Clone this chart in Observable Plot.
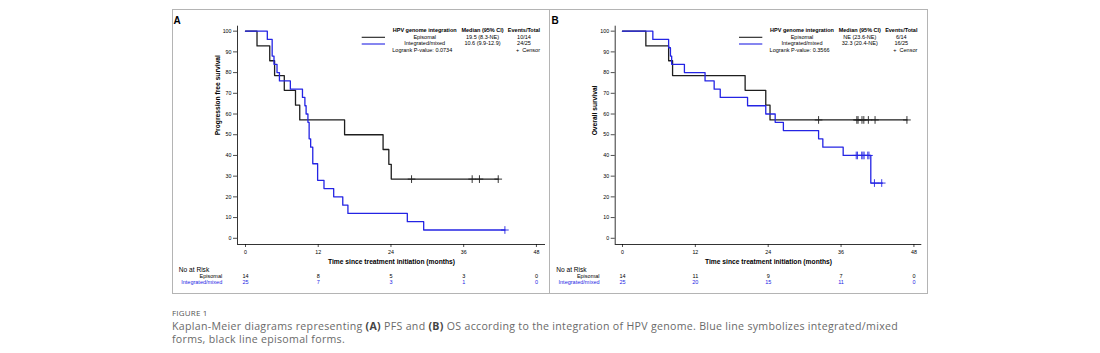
<!DOCTYPE html>
<html>
<head>
<meta charset="utf-8">
<script src="https://cdn.jsdelivr.net/npm/d3@7"></script>
<script src="https://cdn.jsdelivr.net/npm/@observablehq/plot@0.6"></script>
<style>
  html, body { margin: 0; padding: 0; background: #fff; }
  body { width: 1100px; height: 353px; position: relative; overflow: hidden; font-family: "Liberation Sans", Arial, sans-serif; }
  .border { position: absolute; top: 9px; height: 285px; border: 1.5px solid #b4b4b4; box-sizing: border-box; }
  .plot { position: absolute; top: 9px; }
  .caption { position: absolute; left: 172px; top: 306px; font-family: "Open Sans", "Noto Sans", sans-serif; color: #6a6a6a; font-size: 10.6px; letter-spacing: 0.3px; line-height: 13px; }
  .caption .fig { color: #555; font-size: 8px; letter-spacing: 0.2px; margin-bottom: 1px; }
  .caption b { color: #444; }
</style>
</head>
<body>
<div class="border" style="left:172px;width:378px"></div>
<div class="border" style="left:548.5px;width:379px"></div>
<div id="pA" class="plot" style="left:172px"></div>
<div id="pB" class="plot" style="left:548px"></div>
<div class="caption">
  <div class="fig">FIGURE 1</div>
  <div>Kaplan-Meier diagrams representing <b>(A)</b> PFS and <b>(B)</b> OS according to the integration of HPV genome. Blue line symbolizes integrated/mixed<br>forms, black line episomal forms.</div>
</div>
<script>
// ---------- data ----------
const groups = ["Episomal", "Integrated/mixed"];
const xTicks = [0, 12, 24, 36, 48];
const yTicks = [0, 10, 20, 30, 40, 50, 60, 70, 80, 90, 100];

// Panel A: progression free survival
const pfsEpiTimes = [0, 1.9, 4.0, 4.8, 6.4, 8.25, 8.95, 16.35, 22.7, 23.65, 24.05];
const pfsEpiSurv  = [100, 92.86, 85.71, 78.57, 71.43, 64.29, 57.14, 50.0, 42.86, 35.71, 28.57];
const pfsEpiEnd = 41.7;
const pfsEpiCensor = [27.4, 37.4, 38.6, 41.7];

const pfsIntTimes = [0, 3.6, 4.4, 4.7, 5.2, 5.6, 7.4, 9.4, 9.8, 10.0, 10.3, 10.5, 10.75, 11.1, 11.9, 12.95, 14.55, 16.05, 16.9, 26.7, 29.4];
const pfsIntSurv  = [100, 96, 88, 84, 80, 76, 72, 68, 64, 60, 56, 48, 44, 36, 28, 24, 20, 16, 12, 8, 4];
const pfsIntEnd = 42.8;
const pfsIntCensor = [42.8];

const pfsRiskEpi = [14, 8, 5, 3, 0];
const pfsRiskInt = [25, 7, 3, 1, 0];

// Panel B: overall survival
const osEpiTimes = [0, 3.85, 7.6, 8.25, 20.2, 23.6, 24.3];
const osEpiSurv  = [100, 92.86, 85.71, 78.57, 71.43, 64.29, 57.14];
const osEpiEnd = 46.85;
const osEpiCensor = [32.3, 38.6, 38.8, 39.45, 39.75, 40.5, 41.6, 46.85];

const osIntTimes = [0, 5.0, 7.6, 7.9, 8.1, 10.2, 13.6, 15.1, 16.1, 20.6, 23.6, 25.15, 26.5, 32.3, 33.0, 36.35, 40.9];
const osIntSurv  = [100, 96, 92, 88, 84, 80, 76, 72, 68, 64, 60, 56, 52, 48, 44, 40, 26.67];
const osIntEnd = 42.8;
const osIntCensor = [38.5, 38.7, 39.4, 39.6, 39.8, 40.4, 40.6, 41.5, 42.7];

const osRiskEpi = [14, 11, 9, 7, 0];
const osRiskInt = [25, 20, 15, 11, 0];

const legendA = { median: ["19.5 (8.3-NE)", "10.6 (9.9-12.9)"], events: ["10/14", "24/25"], p: "Logrank P-value: 0.0734" };
const legendB = { median: ["NE (23.6-NE)", "32.3 (20.4-NE)"], events: ["6/14", "16/25"], p: "Logrank P-value: 0.3566" };

// ---------- helpers ----------
const BLACK = "#1e1e1e", BLUE = "#2424e4";
function stepPoints(times, surv, end) {
  const pts = times.map((t, i) => ({ t, s: surv[i] }));
  pts.push({ t: end, s: surv[surv.length - 1] });
  return pts;
}
function survAt(times, surv, t) {
  let s = surv[0];
  for (let i = 0; i < times.length; i++) if (times[i] <= t) s = surv[i];
  return s;
}
function censorPoints(times, surv, cens) {
  return cens.map(t => ({ t, s: survAt(times, surv, t) }));
}

function makePanel(cfg) {
  const epi = stepPoints(cfg.epiT, cfg.epiS, cfg.epiEnd);
  const int = stepPoints(cfg.intT, cfg.intS, cfg.intEnd);
  const ce = censorPoints(cfg.epiT, cfg.epiS, cfg.epiC);
  const ci = censorPoints(cfg.intT, cfg.intS, cfg.intC);
  const risk = xTicks.map((t, i) => ({ t, e: cfg.riskE[i], n: cfg.riskI[i] }));
  const yMin = -3, yMax = 102.4;
  const svg = Plot.plot({
    width: cfg.width, height: 285,
    marginLeft: cfg.ml, marginRight: cfg.mr, marginTop: 16.7, marginBottom: 50,
    x: { domain: [cfg.xMin, cfg.xMax] },
    y: { domain: [yMin, yMax] },
    style: { fontFamily: "'Liberation Sans', Arial, sans-serif", fontSize: "5.3px", color: "#000", background: "transparent", overflow: "visible" },
    marks: [
      Plot.ruleX([cfg.xMin], { stroke: "#000", strokeWidth: 0.8 }),
      Plot.ruleY([yMin], { stroke: "#000", strokeWidth: 0.8 }),
      Plot.axisY(yTicks, { tickSize: 4, tickPadding: 2, label: null, strokeWidth: 0.7 }),
      Plot.axisX(xTicks, { tickSize: 3, tickPadding: 2.5, label: null, strokeWidth: 0.7 }),
      Plot.line(epi, { x: "t", y: "s", curve: "step-after", stroke: BLACK, strokeWidth: 1.3 }),
      Plot.line(int, { x: "t", y: "s", curve: "step-after", stroke: BLUE, strokeWidth: 1.3 }),
      Plot.dot(ce, { x: "t", y: "s", symbol: "plus", r: 2.6, stroke: BLACK, strokeWidth: 0.9 }),
      Plot.dot(ci, { x: "t", y: "s", symbol: "plus", r: 2.6, stroke: BLUE, strokeWidth: 0.9 }),
      Plot.text(["Time since treatment initiation (months)"], { frameAnchor: "bottom", dy: 19.5, fontWeight: "bold", fontSize: 6.7 }),
      Plot.text([cfg.yTitle], { frameAnchor: "left", rotate: -90, dx: cfg.yTitleDx, fontWeight: "bold", fontSize: 6.7 }),
      Plot.text(["No at Risk"], { frameAnchor: "bottom-left", dx: cfg.noRiskDx, dy: 27.3, textAnchor: "start", fontSize: 6.6 }),
      Plot.text([groups[0]], { frameAnchor: "bottom-left", dx: cfg.rowDx, dy: 33.3, textAnchor: "end", fontSize: 5.5, fill: "#000" }),
      Plot.text([groups[1]], { frameAnchor: "bottom-left", dx: cfg.rowDx, dy: 39.8, textAnchor: "end", fontSize: 5.5, fill: BLUE }),
      Plot.text(risk, { x: "t", text: "e", frameAnchor: "bottom", dy: 33.3, fontSize: 5.5, fill: "#000" }),
      Plot.text(risk, { x: "t", text: "n", frameAnchor: "bottom", dy: 39.8, fontSize: 5.5, fill: BLUE })
    ]
  });
  // panel letter and legend
  const g = d3.select(svg).append("g").attr("font-family", "'Liberation Sans', Arial, sans-serif");
  g.append("text").attr("x", cfg.letterX).attr("y", 14.7).attr("font-size", 10).attr("font-weight", "bold").text(cfg.letter);
  const L = cfg.legX;
  const rowY = [28.3, 35];
  const leg = g.append("g").attr("font-size", 5.5).attr("dominant-baseline", "middle");
  leg.append("text").attr("x", L + 63).attr("y", 21.7).attr("text-anchor", "middle").attr("font-weight", "bold").text("HPV genome integration");
  leg.append("text").attr("x", L + 120.8).attr("y", 21.7).attr("text-anchor", "middle").attr("font-weight", "bold").text("Median (95% CI)");
  leg.append("text").attr("x", L + 162.3).attr("y", 21.7).attr("text-anchor", "middle").attr("font-weight", "bold").text("Events/Total");
  groups.forEach((name, i) => {
    leg.append("line").attr("x1", L).attr("x2", L + 23.3).attr("y1", rowY[i]).attr("y2", rowY[i])
      .attr("stroke", i ? BLUE : BLACK).attr("stroke-width", 1.1);
    leg.append("text").attr("x", L + 63).attr("y", rowY[i]).attr("text-anchor", "middle").text(name);
    leg.append("text").attr("x", L + 120.8).attr("y", rowY[i]).attr("text-anchor", "middle").text(cfg.legend.median[i]);
    leg.append("text").attr("x", L + 162.3).attr("y", rowY[i]).attr("text-anchor", "middle").text(cfg.legend.events[i]);
  });
  leg.append("text").attr("x", L + 30.6).attr("y", 41.7).attr("text-anchor", "start").text(cfg.legend.p);
  leg.append("text").attr("x", L + 178.3).attr("y", 41.7).attr("text-anchor", "end").text("+  Censor");
  return svg;
}

document.getElementById("pA").append(makePanel({
  width: 378, ml: 65, mr: 5, xMin: -1.32, xMax: 49.5,
  epiT: pfsEpiTimes, epiS: pfsEpiSurv, epiEnd: pfsEpiEnd, epiC: pfsEpiCensor,
  intT: pfsIntTimes, intS: pfsIntSurv, intEnd: pfsIntEnd, intC: pfsIntCensor,
  riskE: pfsRiskEpi, riskI: pfsRiskInt,
  yTitle: "Progression free survival", yTitleDx: -19.5, noRiskDx: -58.7, rowDx: -15.3,
  letter: "A", letterX: 5, legX: 189.7, legend: legendA
}));
document.getElementById("pB").append(makePanel({
  width: 380, ml: 66.7, mr: 6.7, xMin: -1.2, xMax: 49.3,
  epiT: osEpiTimes, epiS: osEpiSurv, epiEnd: osEpiEnd, epiC: osEpiCensor,
  intT: osIntTimes, intS: osIntSurv, intEnd: osIntEnd, intC: osIntCensor,
  riskE: osRiskEpi, riskI: osRiskInt,
  yTitle: "Overall survival", yTitleDx: -20, noRiskDx: -59, rowDx: -15.7,
  letter: "B", letterX: 7, legX: 191, legend: legendB
}));
</script>
</body>
</html>
